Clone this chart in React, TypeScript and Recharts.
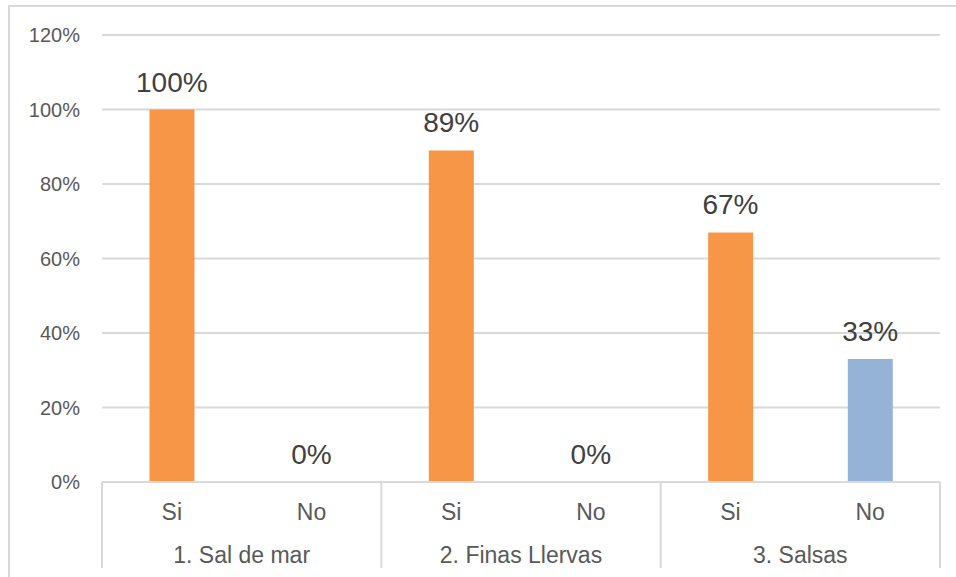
import React from 'react';
import { ComposedChart, Bar, Line, XAxis, YAxis, CartesianGrid, LabelList, Cell } from 'recharts';

// Respuestas por producto: cada grupo tiene una barra "Si" y una "No"
const groups = ['1. Sal de mar', '2. Finas Llervas', '3. Salsas'];
const answers = ['Si', 'No'];
const siValues = [100, 89, 67];
const noValues = [0, 0, 33];
const yTicks = [0, 20, 40, 60, 80, 100, 120];

const ORANGE = '#F79646';
const BLUE = '#95B3D7';
const GRID = '#d9d9d9';
const TICK_TEXT = '#595959';

const WIDTH = 956;
const HEIGHT = 577;
const MARGIN = { top: 35, right: 16, left: 0, bottom: 0 };
const Y_AXIS_WIDTH = 102;
const X_AXIS_HEIGHT = 95;

const data = groups.flatMap((g, gi) => [
    { key: `${gi}-Si`, answer: answers[0], group: g, value: siValues[gi] },
    { key: `${gi}-No`, answer: answers[1], group: g, value: noValues[gi] },
]);

const plotWidth = WIDTH - MARGIN.left - MARGIN.right - Y_AXIS_WIDTH;
const catWidth = plotWidth / data.length;

// Etiqueta de respuesta + nombre del grupo y separadores verticales
const CategoryTick = (props: any) => {
    const { x, y, payload } = props;
    const item = data[payload.index];
    const firstInGroup = payload.index % 2 === 0;
    const isLast = payload.index === data.length - 1;
    return (
        <g>
            <text x={x} y={y + 38} textAnchor="middle" fontSize={23} fill={TICK_TEXT}>
                {item.answer}
            </text>
            {firstInGroup && (
                <>
                    <line x1={x - catWidth / 2} y1={y} x2={x - catWidth / 2} y2={y + 86} stroke={GRID} strokeWidth={2} />
                    <text x={x + catWidth / 2} y={y + 81} textAnchor="middle" fontSize={23} fill={TICK_TEXT}>
                        {item.group}
                    </text>
                </>
            )}
            {isLast && (
                <line x1={x + catWidth / 2} y1={y} x2={x + catWidth / 2} y2={y + 86} stroke={GRID} strokeWidth={2} />
            )}
        </g>
    );
};

const App: React.FC = () => {
    return (
        <div
            style={{
                position: 'absolute',
                left: 0,
                top: 0,
                width: WIDTH,
                height: HEIGHT,
                overflow: 'hidden',
                background: '#fff',
                fontFamily: '"Liberation Sans", Arial, sans-serif',
            }}
        >
            <div
                style={{
                    position: 'absolute',
                    left: 8,
                    top: 5,
                    width: 1100,
                    height: 800,
                    border: `2px solid ${GRID}`,
                }}
            />
            <div style={{ position: 'absolute', left: 0, top: 0 }}>
                <ComposedChart width={WIDTH} height={HEIGHT} data={data} margin={MARGIN} barCategoryGap="34%">
                    <CartesianGrid vertical={false} stroke={GRID} strokeWidth={2} />
                    <XAxis
                        dataKey="key"
                        height={X_AXIS_HEIGHT}
                        interval={0}
                        axisLine={{ stroke: GRID, strokeWidth: 2 }}
                        tickLine={false}
                        tickSize={0}
                        tickMargin={0}
                        tick={<CategoryTick />}
                    />
                    <YAxis
                        width={Y_AXIS_WIDTH}
                        domain={[0, 120]}
                        ticks={yTicks}
                        interval={0}
                        axisLine={false}
                        tickLine={false}
                        tickSize={0}
                        tickMargin={22}
                        tickFormatter={(v: number) => `${v}%`}
                        tick={{ fontSize: 20, fill: TICK_TEXT }}
                    />
                    <Bar dataKey="value" isAnimationActive={false}>
                        {data.map((d) => (
                            <Cell key={d.key} fill={d.answer === 'Si' ? ORANGE : BLUE} />
                        ))}
                    </Bar>
                    {/* línea invisible solo para las etiquetas (incluye las barras en 0%) */}
                    <Line
                        dataKey="value"
                        stroke="none"
                        dot={false}
                        activeDot={false}
                        legendType="none"
                        isAnimationActive={false}
                    >
                        <LabelList
                            dataKey="value"
                            position="top"
                            offset={18}
                            fontSize={28}
                            fill="#404040"
                            formatter={(v: any) => `${v}%`}
                        />
                    </Line>
                </ComposedChart>
            </div>
        </div>
    );
};

export default App;
